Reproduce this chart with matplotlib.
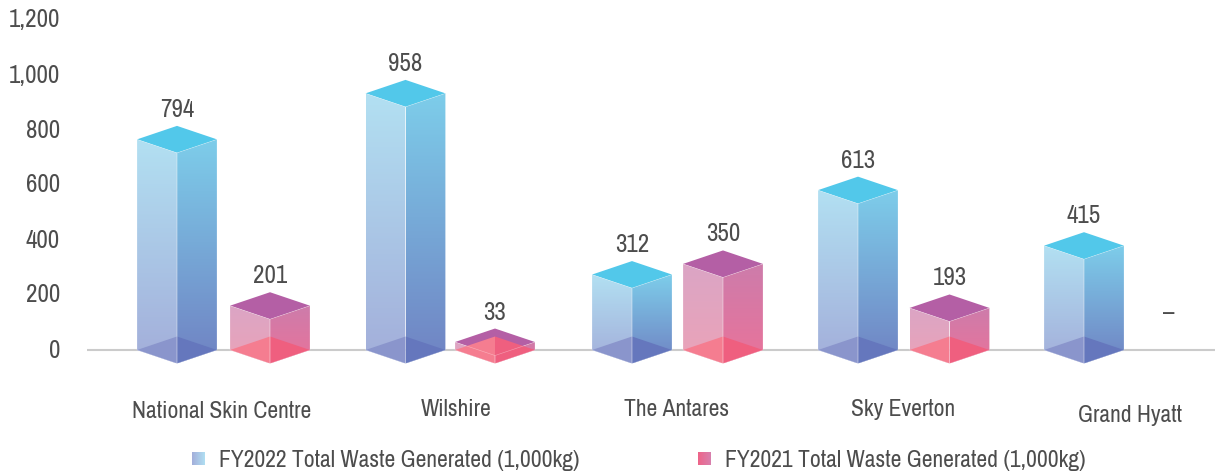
import numpy as np
import matplotlib
matplotlib.use("Agg")
from matplotlib import pyplot as plt
from matplotlib.colors import to_rgb
from matplotlib.patches import Polygon

plt.rcParams['font.family'] = ['Archivo Narrow', 'Roboto Condensed', 'Liberation Sans', 'DejaVu Sans']

hospitals = ['National Skin Centre', 'Wilshire', 'The Antares', 'Sky Everton', 'Grand Hyatt']
fy2022 = [794, 958, 312, 613, 415]
fy2021 = [201, 33, 350, 193, None]
yticks = [0, 200, 400, 600, 800, 1000, 1200]
legend_names = ['FY2022 Total Waste Generated (1,000kg)', 'FY2021 Total Waste Generated (1,000kg)']

TEXT = '#4d4d4d'
BLUE = dict(top='#52c8ea', left=('#b2e0f2', '#a3aeda'), right=('#7dcdea', '#7083c3'),
            base_l='#8a95cc', base_r='#6577bd', legend=('#a3aeda', '#b0dff2'))
PINK = dict(top='#b45fa5', left=('#dba5c5', '#eba3b8'), right=('#cd7cab', '#e9739a'),
            base_l='#f57d90', base_r='#ef5f7f', legend=('#ee6488', '#d880ae'))

W, H = 1215, 475
fig = plt.figure(figsize=(W / 100, H / 100), dpi=100)

# axes fills the figure, limits picked so that the group centres and ticks land where they do in the original
PX_Y = 0.275        # pixels per unit
PX_X = 226.5        # pixels per group
ax = fig.add_axes([0, 0, 1, 1])
x0 = -223.5 / PX_X
y0 = -(H - 350) / PX_Y
xlim = (x0, x0 + W / PX_X)
ylim = (y0, y0 + H / PX_Y)

# the groups in the original are not evenly spaced
blue_nudge = [0, 2, 2, 1.5, 1]
pink_nudge = [0, -1.5, 0, 0, 0]


def dx(px):
    return px / PX_X


def dy(px):
    return px / PX_Y


def gradient(poly, c1, c2, horizontal=False):
    poly = np.array(poly)
    ramp = np.linspace(to_rgb(c1), to_rgb(c2), 64)
    img = ramp[None, :, :] if horizontal else ramp[:, None, :]
    ext = [poly[:, 0].min(), poly[:, 0].max(), poly[:, 1].min(), poly[:, 1].max()]
    im = ax.imshow(img, extent=ext, origin='upper', aspect='auto', interpolation='bilinear', zorder=3, clip_on=True)
    clip = Polygon(poly, transform=ax.transData, fc='none', ec='none')
    ax.add_patch(clip)
    im.set_clip_path(clip)


def drawn_height(v):
    # the 3d boxes are not quite on the axis scale
    return max(1.02 * v - 44, 29)


def box(xc, value, c):
    hw = dx(40)
    d = dy(13.5)
    h = drawn_height(value)
    edge = dict(ec='white', lw=0.4, alpha=0.4, zorder=4, fill=False)
    # top first, in the 33 bar it shows behind the base
    ax.add_patch(Polygon([(xc - hw, h), (xc, h + d), (xc + hw, h), (xc, h - d)], fc=c['top'], ec='none', zorder=3))
    left = [(xc - hw, h), (xc, h - d), (xc, -d), (xc - hw, 0)]
    right = [(xc, h - d), (xc + hw, h), (xc + hw, 0), (xc, -d)]
    gradient(left, *c['left'])
    gradient(right, *c['right'])
    # base goes over the faces, hides the top of the flat bar too
    ax.add_patch(Polygon([(xc - hw, 0), (xc, d), (xc, -d)], fc=c['base_l'], ec='none', zorder=3.5))
    ax.add_patch(Polygon([(xc, d), (xc + hw, 0), (xc, -d)], fc=c['base_r'], ec='none', zorder=3.5))
    ax.add_patch(Polygon(left, **edge))
    ax.add_patch(Polygon(right, **edge))
    ax.text(xc, h + dy(30), str(value), ha='center', va='center', fontsize=18, color=TEXT, zorder=5)


ax.plot([xlim[0] + dx(87), xlim[1]], [0, 0], color='#cbcbcb', lw=1.5, zorder=1, solid_capstyle='butt')

for i in range(len(hospitals)):
    box(i - dx(46.5 - blue_nudge[i]), fy2022[i], BLUE)
    if fy2021[i] is not None:
        box(i + dx(46.5 + pink_nudge[i]), fy2021[i], PINK)
    else:
        ax.text(i + dx(39), dy(38), '–', ha='center', va='center', fontsize=18, color=TEXT)

for t in yticks:
    ax.text(xlim[0] + dx(60), t, f'{t:,}', ha='right', va='center', fontsize=18, color=TEXT)

label_dx = [-2, 6, 0, 0, 0]
label_dy = [0, 1, 1, 1, -5]
for i, name in enumerate(hospitals):
    ax.text(i + dx(label_dx[i]), dy(-61 + label_dy[i]), name, ha='center', va='center', fontsize=17, color=TEXT)

# legend, built by hand because of the gradient swatches
for name, c, px in zip(legend_names, (BLUE, PINK), (192, 698)):
    sx = xlim[0] + dx(px)
    sy = dy(-(458.5 - 350))
    s = dy(6.5)
    gradient([(sx, sy - s), (sx + dx(13), sy - s), (sx + dx(13), sy + s), (sx, sy + s)], *c['legend'], horizontal=True)
    ax.text(sx + dx(27), sy - dy(2), name, ha='left', va='center', fontsize=17, color=TEXT)

ax.set_xlim(xlim)
ax.set_ylim(ylim)
ax.axis('off')

fig.savefig('out.png', dpi=100)
